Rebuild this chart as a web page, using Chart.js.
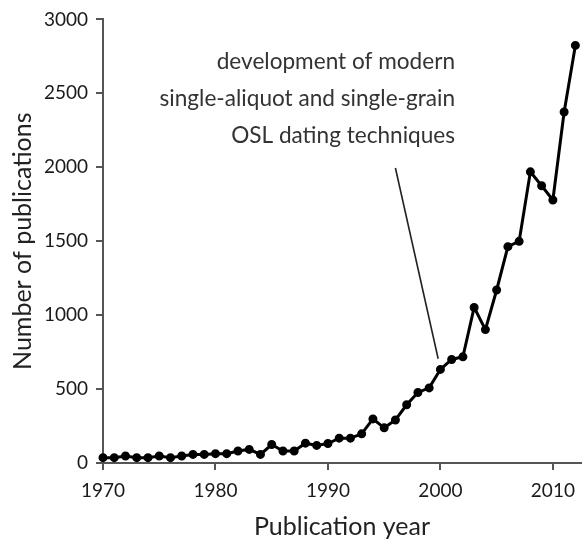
<!DOCTYPE html>
<html>
<head>
<meta charset="utf-8">
<script src="https://cdn.jsdelivr.net/npm/chart.js@4.4.1/dist/chart.umd.min.js"></script>
<style>
html,body{margin:0;padding:0;background:#fff;}
#wrap{width:587px;height:542px;position:relative;}
</style>
</head>
<body>
<div id="wrap"><canvas id="c" width="587" height="542"></canvas></div>
<script>
const years = [1970,1971,1972,1973,1974,1975,1976,1977,1978,1979,1980,1981,1982,1983,1984,1985,1986,1987,1988,1989,1990,1991,1992,1993,1994,1995,1996,1997,1998,1999,2000,2001,2002,2003,2004,2005,2006,2007,2008,2009,2010,2011,2012];
const publications = [36,36,47,36,36,47,36,47,58,58,63,63,81,92,58,125,81,81,134,119,132,168,168,197,298,238,291,394,477,508,633,700,718,1052,902,1170,1463,1499,1969,1875,1779,2374,2824];
const xTicks = [1970,1980,1990,2000,2010];
const yTicks = [0,500,1000,1500,2000,2500,3000];
const annotationLines = ["development of modern","single-aliquot and single-grain","OSL dating techniques"];

const FONT = "Lato, 'Open Sans', sans-serif";
const axisColor = '#555';

const annotationPlugin = {
  id: 'oslNote',
  afterDatasetsDraw(chart) {
    const ctx = chart.ctx;
    const xs = chart.scales.x, ys = chart.scales.y;
    ctx.save();
    ctx.font = "22.6px " + FONT;
    ctx.fillStyle = '#333';
    ctx.textAlign = 'right';
    ctx.textBaseline = 'middle';
    const rx = xs.getPixelForValue(2001.3);
    const vals = [2715, 2465, 2215];
    annotationLines.forEach((t, i) => ctx.fillText(t, rx, ys.getPixelForValue(vals[i])));
    ctx.strokeStyle = '#222';
    ctx.lineWidth = 1.6;
    ctx.beginPath();
    ctx.moveTo(xs.getPixelForValue(1996.0), ys.getPixelForValue(1995));
    ctx.lineTo(xs.getPixelForValue(1999.8), ys.getPixelForValue(705));
    ctx.stroke();
    ctx.restore();
  }
};

new Chart(document.getElementById('c'), {
  type: 'line',
  data: {
    datasets: [{
      data: years.map((y, i) => ({x: y, y: publications[i]})),
      borderColor: '#000',
      backgroundColor: '#000',
      borderWidth: 3,
      pointRadius: 3,
      pointHoverRadius: 3,
      tension: 0,
      clip: false
    }]
  },
  options: {
    responsive: false,
    animation: false,
    devicePixelRatio: 1,
    layout: {padding: {top: 14, right: 1, left: 0, bottom: 0}},
    plugins: {legend: {display: false}, tooltip: {enabled: false}},
    scales: {
      x: {
        type: 'linear',
        min: 1970, max: 2012.5,
        afterBuildTicks(s) { s.ticks = xTicks.map(v => ({value: v})); },
        afterFit(s) { s.height = 542 - 463; },
        grid: {display: true, drawOnChartArea: false, drawTicks: true, tickLength: 7, color: axisColor, lineWidth: 2},
        border: {display: true, color: axisColor, width: 2},
        ticks: {color: '#1a1a1a', font: {family: FONT, size: 19}, padding: 9, maxRotation: 0, callback: v => String(v)},
        title: {display: true, text: 'Publication year', color: '#222', font: {family: FONT, size: 25}, padding: {top: 1, bottom: 0}}
      },
      y: {
        min: 0, max: 3000,
        afterBuildTicks(s) { s.ticks = yTicks.map(v => ({value: v})); },
        afterFit(s) { s.width = 103; },
        grid: {display: true, drawOnChartArea: false, drawTicks: true, tickLength: 7, color: axisColor, lineWidth: 2},
        border: {display: true, color: axisColor, width: 2},
        ticks: {color: '#1a1a1a', font: {family: FONT, size: 19}, padding: 8, callback: v => String(v)},
        title: {display: true, text: 'Number of publications', color: '#222', font: {family: FONT, size: 25}, padding: {top: 8, bottom: 0}}
      }
    }
  },
  plugins: [annotationPlugin]
});
</script>
</body>
</html>
